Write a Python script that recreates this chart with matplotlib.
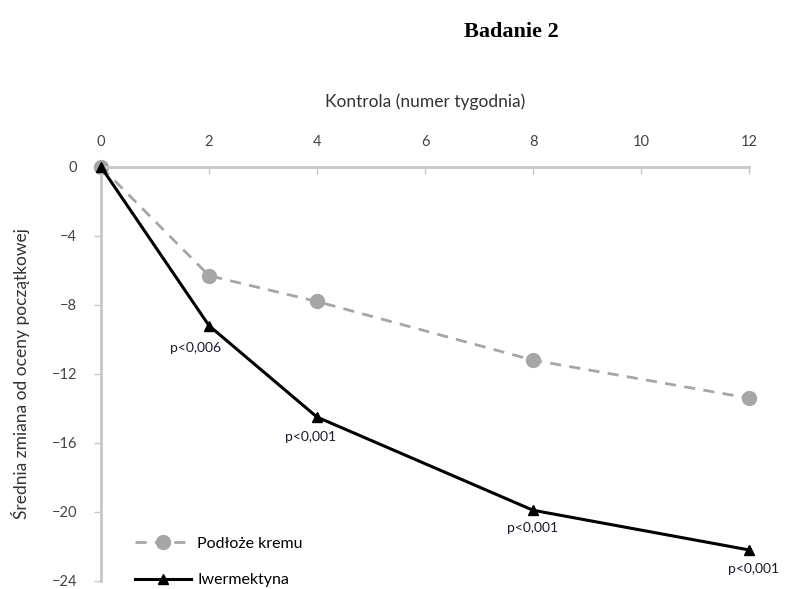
import matplotlib.pyplot as plt

# Data
weeks = [0, 2, 4, 8, 12]
podloze = [0, -6.3, -7.8, -11.2, -13.4]
iwermektyna = [0, -9.2, -14.5, -19.9, -22.2]
p_labels = ['p<0,006', 'p<0,001', 'p<0,001', 'p<0,001']
x_ticks = [0, 2, 4, 6, 8, 10, 12]
y_ticks = [0, -4, -8, -12, -16, -20, -24]

plt.rcParams['font.family'] = ['Lato', 'DejaVu Sans']

fig = plt.figure(figsize=(7.86, 5.89), dpi=100)
ax = fig.add_axes([0.1285, 0.0136, 0.8245, 0.703])

ax.plot(weeks, podloze, color='#a6a6a6', linestyle=(0, (4, 3)), linewidth=2,
        marker='o', markersize=10, label='Podłoże kremu', clip_on=False, zorder=2)
ax.plot(weeks, iwermektyna, color='#000000', linewidth=2.2,
        marker='^', markersize=7, label='Iwermektyna', clip_on=False, zorder=3)

# p-value labels under the Iwermektyna points
offsets = [(-10, -16), (-5, -14), (0, -13), (3, -14)]
for x, y, lab, off in zip(weeks[1:], iwermektyna[1:], p_labels, offsets):
    ax.annotate(lab, (x, y), xytext=off, textcoords='offset points',
                ha='center', va='center', fontsize=10, color='#1a1a2e')

ax.set_xlim(0, 12)
ax.set_ylim(-24, 0)
ax.set_xticks(x_ticks)
ax.set_yticks(y_ticks)
ax.xaxis.tick_top()
ax.xaxis.set_label_position('top')
ax.set_xlabel('Kontrola (numer tygodnia)', fontsize=12.5, color='#333333', labelpad=20)
ax.set_ylabel('Średnia zmiana od oceny początkowej', fontsize=12.5, color='#333333', labelpad=16)

for side in ['right', 'bottom']:
    ax.spines[side].set_visible(False)
for side in ['top', 'left']:
    ax.spines[side].set_color('#c8c8c8')
    ax.spines[side].set_linewidth(2)
ax.tick_params(axis='both', colors='#c8c8c8', labelcolor='#444444', labelsize=10.5,
               length=5, width=1)
ax.tick_params(axis='x', direction='in', pad=13)
ax.tick_params(axis='y', direction='out', pad=12)

leg = ax.legend(loc='lower left', bbox_to_anchor=(0.03, -0.05), frameon=False,
                fontsize=11.5, handlelength=3.5, handletextpad=0.4, labelspacing=1.4)

fig.text(0.65, 0.945, 'Badanie 2', fontsize=16, fontweight='bold',
         family='Liberation Serif', ha='center', va='center')

fig.savefig('out.png', dpi=100)
